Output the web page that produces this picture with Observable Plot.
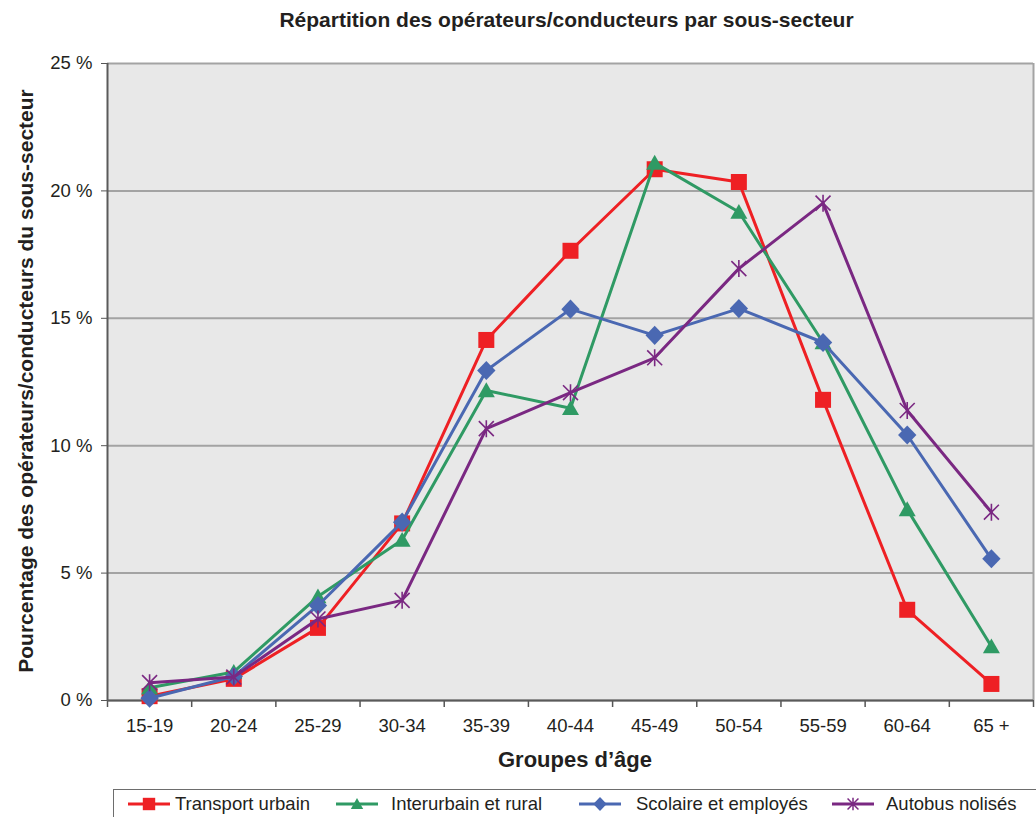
<!DOCTYPE html>
<html>
<head>
<meta charset="utf-8">
<script src="https://cdn.jsdelivr.net/npm/d3@7"></script>
<script src="https://cdn.jsdelivr.net/npm/@observablehq/plot@0.6"></script>
<style>
  html, body { margin: 0; padding: 0; background: #fff; }
  body { width: 1036px; height: 817px; position: relative; overflow: hidden;
         font-family: "Liberation Sans", Arial, sans-serif; color: #231f20; }
  .abs { position: absolute; white-space: nowrap; line-height: 1; }
  #chart { position: absolute; left: 0; top: 40px; }
  #legend { position: absolute; left: 113px; top: 789px; width: 940px; height: 40px;
            border: 1px solid #6d6d6d; box-sizing: border-box; }
  .lgtext { position: absolute; font-size: 18.5px; line-height: 1; top: 5px; white-space: nowrap; }
  .lgsw { position: absolute; top: 2px; }
</style>
</head>
<body>
<div class="abs" style="left:566.5px; top:19px; transform:translate(-50%,-50%); font-size:21px; font-weight:bold;">Répartition des opérateurs/conducteurs par sous-secteur</div>
<div class="abs" style="left:25px; top:381px; transform:translate(-50%,-50%) rotate(-90deg); font-size:21px; font-weight:bold;">Pourcentage des opérateurs/conducteurs du sous-secteur</div>
<div class="abs" style="left:575px; top:760px; transform:translate(-50%,-50%); font-size:22px; font-weight:bold;">Groupes d’âge</div>
<div id="chart"></div>
<div id="legend"></div>
<script>
// ---- data ----
const ages = ["15-19", "20-24", "25-29", "30-34", "35-39", "40-44", "45-49", "50-54", "55-59", "60-64", "65 +"];
const seriesNames = ["Transport urbain", "Interurbain et rural", "Scolaire et employés", "Autobus nolisés"];
const transportUrbain  = [0.17, 0.85, 2.85, 6.95, 14.15, 17.65, 20.85, 20.35, 11.8, 3.56, 0.65];
const interurbainRural = [0.5, 1.12, 4.08, 6.3, 12.17, 11.47, 21.1, 19.17, 14.05, 7.5, 2.12];
const scolaireEmployes = [0.09, 0.94, 3.73, 7.0, 12.95, 15.36, 14.33, 15.38, 14.05, 10.42, 5.56];
const autobusNolises   = [0.7, 0.92, 3.2, 3.93, 10.67, 12.08, 13.45, 16.95, 19.52, 11.38, 7.39];
const yTicks = [0, 5, 10, 15, 20, 25];
const colors = ["#ee2024", "#2f9a64", "#4a68b2", "#7a2882"];

// ---- custom symbols ----
const sym = {
  square: { draw(c, s) { const r = Math.sqrt(s / Math.PI); c.rect(-r, -r, 2 * r, 2 * r); } },
  triangle: { draw(c, s) { const r = Math.sqrt(s / Math.PI); c.moveTo(0, -0.95 * r); c.lineTo(r, 0.8 * r); c.lineTo(-r, 0.8 * r); c.closePath(); } },
  diamond: { draw(c, s) { const r = Math.sqrt(s / Math.PI); c.moveTo(0, -1.12 * r); c.lineTo(1.08 * r, 0); c.lineTo(0, 1.12 * r); c.lineTo(-1.08 * r, 0); c.closePath(); } },
  asterisk: { draw(c, s) { const r = Math.sqrt(s / Math.PI); c.moveTo(0, -r); c.lineTo(0, r); const d = 0.88 * r; c.moveTo(-d, -d); c.lineTo(d, d); c.moveTo(-d, d); c.lineTo(d, -d); } }
};
const symbols = [sym.square, sym.triangle, sym.diamond, sym.asterisk];

const valuesList = [transportUrbain, interurbainRural, scolaireEmployes, autobusNolises];
const rows = valuesList.map((vals, k) => vals.map((v, i) => ({ i, age: ages[i], v, s: seriesNames[k] })));

const seriesMarks = [];
rows.forEach((data, k) => {
  seriesMarks.push(Plot.line(data, { x: "i", y: "v", stroke: colors[k], strokeWidth: 3 }));
  if (k === 3) {
    seriesMarks.push(Plot.dot(data, { x: "i", y: "v", symbol: symbols[k], r: 8.5, fill: "none", stroke: colors[k], strokeWidth: 1.6 }));
  } else {
    seriesMarks.push(Plot.dot(data, { x: "i", y: "v", symbol: symbols[k], r: k === 0 ? 8 : 8.5, fill: colors[k], stroke: "none" }));
  }
});

const chart = Plot.plot({
  width: 1036,
  height: 740,
  marginTop: 23,
  marginBottom: 80,
  marginLeft: 107,
  marginRight: 3,
  style: { fontFamily: "Liberation Sans, Arial, sans-serif", fontSize: "18.5px", color: "#231f20", background: "transparent" },
  x: { type: "linear", domain: [-0.5, ages.length - 0.5] },
  y: { domain: [0, 25] },
  marks: [
    Plot.frame({ fill: "#e8e8e8", stroke: "none" }),
    Plot.gridY(yTicks, { stroke: "#a3a3a3", strokeOpacity: 1, strokeWidth: 2 }),
    Plot.ruleX([ages.length - 0.5], { stroke: "#a3a3a3", strokeWidth: 2 }),
    Plot.axisY(yTicks, { tickSize: 6, tickPadding: 9, tickFormat: d => `${d} %`, stroke: "#555", fill: "#231f20", fontSize: 18.5, label: null }),
    Plot.axisX(d3.range(ages.length), { tickSize: 0, tickPadding: 18, tickFormat: i => ages[i], fill: "#231f20", fontSize: 18.5, label: null }),
    Plot.axisX(d3.range(ages.length + 1).map(k => k - 0.5), { tickSize: 7, tickFormat: () => "", stroke: "#555", strokeWidth: 1.5, label: null }),
    Plot.ruleX([-0.5], { stroke: "#5a5a5a", strokeWidth: 2 }),
    Plot.ruleY([0], { stroke: "#5a5a5a", strokeWidth: 2 }),
    ...seriesMarks
  ]
});
document.getElementById("chart").appendChild(chart);

// ---- legend ----
const legend = document.getElementById("legend");
const swX = [14, 222, 465, 718];   // relative to legend box left (113)
const txX = [61, 277, 522, 772];
seriesNames.forEach((name, k) => {
  const svg = d3.create("svg").attr("class", "lgsw").attr("width", 42).attr("height", 24)
    .style("left", swX[k] + "px");
  svg.append("line").attr("x1", 0).attr("x2", 42).attr("y1", 12).attr("y2", 12)
    .attr("stroke", colors[k]).attr("stroke-width", 3);
  const r = 6.2;
  svg.append("path").attr("transform", "translate(21,12)")
    .attr("d", d3.symbol(symbols[k], r * r * Math.PI)())
    .attr("fill", k === 3 ? "none" : colors[k])
    .attr("stroke", k === 3 ? colors[k] : "none")
    .attr("stroke-width", 1.5);
  legend.appendChild(svg.node());
  const t = document.createElement("div");
  t.className = "lgtext";
  t.style.left = txX[k] + "px";
  t.textContent = name;
  legend.appendChild(t);
});
</script>
</body>
</html>
